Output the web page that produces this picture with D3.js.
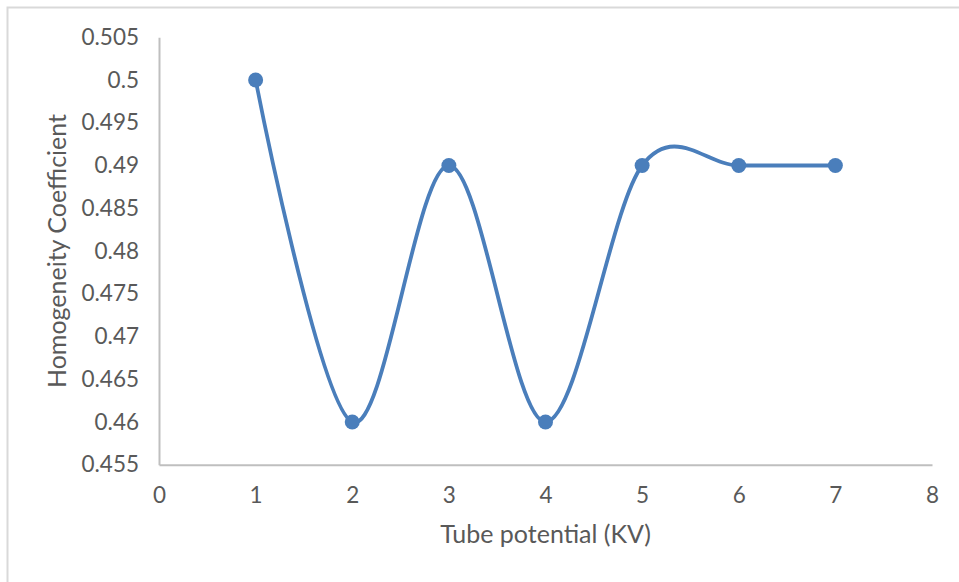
<!DOCTYPE html>
<html>
<head>
<meta charset="utf-8">
<script src="https://cdn.jsdelivr.net/npm/d3@7"></script>
<style>
  html, body { margin: 0; padding: 0; background: #fff; }
  svg { display: block; }
  text { font-family: Lato, "Noto Sans", sans-serif; fill: #595959; }
</style>
</head>
<body>
<svg id="chart" width="959" height="582"></svg>
<script>
// Tube potential (KV) vs homogeneity coefficient
const potentials = [1, 2, 3, 4, 5, 6, 7];
const homogeneity = [0.5, 0.46, 0.49, 0.46, 0.49, 0.49, 0.49];
const xTicks = [0, 1, 2, 3, 4, 5, 6, 7, 8];
const yTicks = [0.455, 0.46, 0.465, 0.47, 0.475, 0.48, 0.485, 0.49, 0.495, 0.5, 0.505];

const svg = d3.select("#chart");
const W = 959, H = 582;
const plotLeft = 159, plotRight = 932, plotTop = 37.25, plotBottom = 464.75;
const color = "#4a7ebb";
const axisColor = "#bfbfbf";
const tickFont = 22.5;

// chart frame
svg.append("rect")
  .attr("x", 7.5).attr("y", 7.5)
  .attr("width", W + 20).attr("height", H + 20)
  .attr("fill", "#fff")
  .attr("stroke", "#d9d9d9").attr("stroke-width", 2);

const x = d3.scaleLinear().domain([0, 8]).range([plotLeft, plotRight]);
const y = d3.scaleLinear().domain([0.455, 0.505]).range([plotBottom, plotTop]);

// x axis
const xAxis = svg.append("g")
  .attr("transform", `translate(0,${plotBottom})`)
  .call(d3.axisBottom(x).tickValues(xTicks).tickSize(0).tickPadding(22).tickFormat(d3.format("d")));
xAxis.select(".domain").attr("stroke", axisColor).attr("stroke-width", 2);
xAxis.selectAll("text").attr("font-size", tickFont).style("font-family", "Lato, 'Noto Sans', sans-serif").attr("fill", "#595959");

// y axis
const yAxis = svg.append("g")
  .attr("transform", `translate(${plotLeft},0)`)
  .call(d3.axisLeft(y).tickValues(yTicks).tickSize(0).tickPadding(20).tickFormat(d => String(+d.toFixed(3))));
yAxis.select(".domain").attr("stroke", axisColor).attr("stroke-width", 2);
yAxis.selectAll("text").attr("font-size", tickFont).style("font-family", "Lato, 'Noto Sans', sans-serif").attr("fill", "#595959");

// axis titles
svg.append("text")
  .attr("x", (plotLeft + plotRight) / 2).attr("y", 543)
  .attr("text-anchor", "middle")
  .attr("font-size", 25)
  .text("Tube potential (KV)");

svg.append("text")
  .attr("transform", `translate(66,${(plotTop + plotBottom) / 2}) rotate(-90)`)
  .attr("text-anchor", "middle")
  .attr("font-size", 25)
  .text("Homogeneity Coefficient");

// smoothed series line
const pts = potentials.map((p, i) => [p, homogeneity[i]]);
const line = d3.line()
  .x(d => x(d[0]))
  .y(d => y(d[1]))
  .curve(d3.curveCardinal.tension(0));

svg.append("path")
  .datum(pts)
  .attr("d", line)
  .attr("fill", "none")
  .attr("stroke", color)
  .attr("stroke-width", 3.8)
  .attr("stroke-linejoin", "round");

svg.append("g")
  .selectAll("circle")
  .data(pts)
  .join("circle")
  .attr("cx", d => x(d[0]))
  .attr("cy", d => y(d[1]))
  .attr("r", 7.5)
  .attr("fill", color);
</script>
</body>
</html>
